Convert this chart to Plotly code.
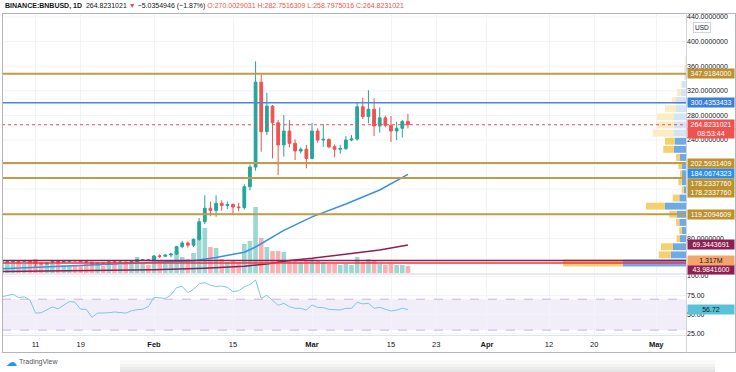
import plotly.graph_objects as go
import pandas as pd

# ---------------- data ----------------
dates = pd.date_range('2021-01-05', '2021-03-18', freq='D')

opens = [41.0, 41.9, 42.2, 43.0, 42.6, 43.6, 42.1, 39.3, 38.6, 40.4, 42.7, 41.2, 42.4, 44.0, 43.5, 42.1, 41.3, 37.7, 40.1, 39.4, 42.0, 41.0, 41.5, 39.5, 42.6, 45.4, 45.6,
         43.9, 51.5, 50.8, 53.0, 54.6, 66.5, 72.5, 69.0, 78.5, 107.0, 129.0, 125.5, 137.0, 133.5, 135.0, 131.0, 130.0, 164.0, 196.0, 334.0, 253.5, 295.0, 268.0, 232.0, 254.6, 234.6, 222.0, 225.0,
         210.0, 254.6, 240.0, 241.0, 229.0, 225.0, 226.0, 240.0, 241.6, 294.0, 278.0, 290.0, 262.8, 276.0, 263.8, 254.6, 259.0, 270.0029031]
highs = [42.5, 43.2, 44.0, 44.5, 44.2, 44.8, 42.5, 41.2, 41.0, 43.5, 43.2, 43.0, 44.5, 44.6, 44.3, 42.6, 41.6, 40.8, 40.9, 42.5, 43.0, 42.0, 41.8, 43.0, 47.0, 46.5, 46.0,
         53.0, 54.0, 54.0, 56.5, 68.0, 76.0, 75.0, 80.0, 113.0, 150.0, 140.0, 150.0, 142.0, 140.0, 137.0, 138.0, 168.0, 200.0, 368.0, 346.0, 317.0, 297.0, 272.5, 280.6, 272.5, 241.0, 228.0, 232.0,
         268.0, 259.0, 266.0, 242.7, 233.0, 232.0, 246.5, 248.0, 300.6, 308.8, 321.0, 307.8, 293.0, 279.5, 279.0, 269.8, 272.5, 282.7516309]
lows = [38.5, 40.5, 40.2, 39.8, 41.5, 40.5, 33.5, 37.2, 37.0, 39.8, 38.0, 40.5, 41.0, 42.0, 41.5, 38.2, 35.5, 36.0, 38.5, 39.0, 40.4, 39.5, 38.2, 39.0, 41.5, 43.5, 43.2,
        43.2, 48.0, 49.5, 49.0, 53.0, 64.0, 65.0, 66.0, 76.0, 103.0, 116.0, 115.0, 125.0, 128.0, 118.0, 124.0, 127.0, 158.0, 190.0, 221.0, 248.0, 210.0, 183.0, 213.0, 228.0, 207.5, 218.0, 194.0,
        208.6, 235.6, 229.0, 226.5, 212.0, 218.0, 223.7, 238.0, 238.9, 274.0, 267.0, 246.5, 252.0, 260.6, 236.7, 240.0, 244.0, 258.7975016]
closes = [41.9, 42.2, 43.0, 42.6, 43.6, 42.1, 39.3, 38.6, 40.4, 42.7, 41.2, 42.4, 44.0, 43.5, 42.1, 41.3, 37.7, 40.1, 39.4, 42.0, 41.0, 41.5, 39.5, 42.6, 45.4, 45.6, 43.9,
          51.5, 50.8, 53.0, 54.6, 66.5, 72.5, 69.0, 78.5, 107.0, 129.0, 125.5, 137.0, 133.5, 135.0, 131.0, 130.0, 164.0, 196.0, 334.0, 253.5, 295.0, 268.0, 232.0, 254.6, 234.6, 222.0, 225.0, 210.0,
          254.6, 240.0, 241.0, 229.0, 225.0, 226.0, 240.0, 241.6, 294.0, 278.0, 290.0, 262.8, 276.0, 263.8, 254.6, 259.0, 270.0, 264.8231021]
volumes_m = [2.28, 2.09, 1.90, 2.09, 1.71, 2.28, 2.66, 1.90, 1.71, 1.71, 1.90, 1.52, 1.52, 1.52, 1.52, 1.71, 2.09, 1.90, 1.33, 1.52, 1.71, 1.52, 1.71, 1.90, 3.04, 1.71, 1.52,
             3.23, 2.47, 2.28, 2.47, 4.18, 3.04, 2.66, 3.80, 7.22, 8.55, 4.94, 4.75, 2.66, 2.09, 2.28, 2.09, 5.51, 6.08, 12.54, 6.65, 4.94, 4.18, 4.18, 3.99, 2.47, 2.28, 2.09, 2.28,
             2.66, 2.28, 2.09, 1.71, 1.71, 1.52, 1.71, 1.52, 3.04, 2.09, 2.66, 2.28, 1.71, 1.52, 1.71, 1.52, 1.52, 1.317]
rsi = [73.0, 75.0, 76.5, 72.0, 73.0, 69.0, 52.0, 52.5, 56.0, 60.0, 57.5, 62.0, 67.0, 66.0, 57.0, 57.0, 46.5, 52.0, 52.0, 52.5, 53.5, 53.0, 52.0, 55.0, 56.5, 57.0, 60.5,
       72.4, 72.0, 71.0, 75.5, 85.0, 86.5, 78.5, 82.7, 90.0, 91.4, 88.0, 86.5, 86.9, 85.3, 79.7, 81.0, 86.0, 89.0, 94.8, 71.1, 75.0, 68.5, 62.0, 64.7, 60.3, 58.2, 58.2, 56.0,
       62.5, 59.4, 59.1, 56.9, 56.0, 56.0, 58.2, 58.2, 66.0, 64.0, 64.7, 58.2, 59.4, 56.9, 54.7, 56.0, 58.2, 56.72]

ma50_dates = ['2021-01-05', '2021-01-20', '2021-02-01', '2021-02-08', '2021-02-12', '2021-02-17', '2021-02-19', '2021-02-24', '2021-03-01', '2021-03-07', '2021-03-13', '2021-03-18']
ma50_vals = [30.5, 36.0, 40.4, 43.5, 49.0, 57.5, 66.0, 93.0, 115.0, 136.0, 158.7, 184.0674323]
ma200_dates = ['2021-01-05', '2021-01-20', '2021-02-01', '2021-02-10', '2021-02-17', '2021-02-21', '2021-02-25', '2021-03-01', '2021-03-05', '2021-03-09', '2021-03-13', '2021-03-18']
ma200_vals = [26.0, 27.5, 29.0, 31.5, 34.5, 38.5, 44.0, 47.6, 52.0, 56.5, 61.0, 69.3443691]

# visible-range volume profile rows (row centre price, up volume, down volume)
vp_price = [40.0, 53.2, 66.4, 79.6, 92.8, 106.0, 119.2, 132.4, 145.6, 158.8, 172.0, 185.2, 198.4, 211.6, 224.8, 238.0,
            251.2, 264.4, 277.6, 290.8, 304.0, 317.2, 330.4, 343.6, 356.8, 370.0]
vp_up = [63, 15.3, 13, 6, 4, 6.7, 9.3, 21, 6.7, 2.7, 4.3, 4, 4.3, 6, 12, 11, 12, 12, 12, 10, 10, 5.3, 4.3, 1.5, 1, 0.5]
vp_down = [60, 12, 12, 3.3, 2.7, 3.3, 7.4, 19, 6.6, 1.6, 3.4, 2, 3.4, 4, 10.7, 10, 21.3, 17, 17, 11, 4.3, 3.7, 0.5, 0.5, 0.5, 0.3]
value_area_rows = 16

levels = [347.9184000, 300.4353433, 202.5931409, 178.2337760, 119.2094609, 43.9841600]
level_colors = ['#c59a45', '#4a86e0', '#c59a45', '#c59a45', '#c59a45', '#8e1f52']

price_ticks = [80, 240, 280, 320, 360, 400, 440]
price_tick_text = ['80.0000000', '240.0000000', '280.0000000', '320.0000000', '360.0000000', '400.0000000', '440.0000000']
grid_prices = [40, 80, 120, 160, 200, 240, 280, 320, 360, 400, 440]
rsi_ticks = [25, 50, 75, 100]
rsi_tick_text = ['25.00', '50.00', '75.00', '100.00']
time_ticks = ['2021-01-11', '2021-01-19', '2021-02-01', '2021-02-15', '2021-03-01', '2021-03-15', '2021-03-23',
              '2021-04-01', '2021-04-12', '2021-04-20', '2021-05-01']
time_text = ['11', '19', '<b>Feb</b>', '15', '<b>Mar</b>', '15', '23', '<b>Apr</b>', '12', '20', '<b>May</b>']

# ---------------- layout constants ----------------
W, H = 736, 372
FONT = 'Liberation Sans, Arial, sans-serif'
UP, DN = '#26a69a', '#ef5350'
XD = [2 / W, 686 / W]
MAIN_D = [1 - 273 / H, 1 - 14 / H]
RSI_D = [1 - 335 / H, 1 - 275 / H]
PRICE_RANGE = [23.7, 444.9]
GRID = '#f0f3fa'

fig = go.Figure()

# volume bars (base axis y, hidden)
vol_colors = ['rgba(38,166,154,0.45)' if c >= o else 'rgba(239,83,80,0.45)' for o, c in zip(opens, closes)]
fig.add_trace(go.Bar(x=dates, y=volumes_m, marker=dict(color=vol_colors, line_width=0),
                     width=0.82 * 86400000, xaxis='x', yaxis='y', hoverinfo='skip'))

# volume profile (overlay axes x2 / y4)
up_cols = ['#6fa9e6' if i < value_area_rows else '#d3e4f7' for i in range(len(vp_price))]
dn_cols = ['#f4d06f' if i < value_area_rows else '#fbecc4' for i in range(len(vp_price))]
fig.add_trace(go.Bar(y=vp_price, x=vp_up, orientation='h', width=11.2, marker=dict(color=up_cols, line_width=0),
                     xaxis='x2', yaxis='y4', hoverinfo='skip'))
fig.add_trace(go.Bar(y=vp_price, x=vp_down, base=vp_up, orientation='h', width=11.2,
                     marker=dict(color=dn_cols, line_width=0), xaxis='x2', yaxis='y4', hoverinfo='skip'))

# moving averages
fig.add_trace(go.Scatter(x=pd.to_datetime(ma200_dates), y=ma200_vals, mode='lines',
                         line=dict(color='#8e1f52', width=1.5), xaxis='x', yaxis='y4', hoverinfo='skip'))
fig.add_trace(go.Scatter(x=pd.to_datetime(ma50_dates), y=ma50_vals, mode='lines',
                         line=dict(color='#3d8fe6', width=1.5), xaxis='x', yaxis='y4', hoverinfo='skip'))

# candles
fig.add_trace(go.Candlestick(x=dates, open=opens, high=highs, low=lows, close=closes,
                             increasing=dict(line=dict(color=UP, width=1), fillcolor=UP),
                             decreasing=dict(line=dict(color=DN, width=1), fillcolor=DN),
                             whiskerwidth=0, xaxis='x', yaxis='y4', hoverinfo='skip'))

# RSI
fig.add_trace(go.Scatter(x=dates, y=rsi, mode='lines', line=dict(color='#7cc7e8', width=1),
                         xaxis='x', yaxis='y2', hoverinfo='skip'))

shapes = []
# price grid
for gp in grid_prices:
    shapes.append(dict(type='line', xref='x domain', yref='y4', x0=0, x1=1, y0=gp, y1=gp,
                       line=dict(color=GRID, width=1), layer='below'))
# RSI band
shapes.append(dict(type='rect', xref='x domain', yref='y2', x0=0, x1=1, y0=30, y1=70,
                   fillcolor='rgba(126,87,194,0.10)', line_width=0, layer='below'))
for v in (30, 70):
    shapes.append(dict(type='line', xref='x domain', yref='y2', x0=0, x1=1, y0=v, y1=v,
                       line=dict(color='#c9b6dc', width=1, dash='dash')))
# drawn levels
for lv, col in zip(levels, level_colors):
    shapes.append(dict(type='line', xref='x domain', yref='y4', x0=0, x1=1, y0=lv, y1=lv,
                       line=dict(color=col, width=2 if col == '#c59a45' else 1.5)))
# POC line of volume profile
tot = [u + d for u, d in zip(vp_up, vp_down)]
poc = vp_price[tot.index(max(tot))]
shapes.append(dict(type='line', xref='x domain', yref='y4', x0=0, x1=1, y0=poc, y1=poc,
                   line=dict(color='#f23645', width=1.5)))
# last price line
shapes.append(dict(type='line', xref='x domain', yref='y4', x0=0, x1=1, y0=closes[-1], y1=closes[-1],
                   line=dict(color=DN, width=1, dash='dot')))

# frame / separators (paper coordinates)
def hline(ypx, x0px, x1px, col, w=1):
    shapes.append(dict(type='line', xref='paper', yref='paper', x0=x0px / W, x1=x1px / W,
                       y0=1 - ypx / H, y1=1 - ypx / H, line=dict(color=col, width=w)))

def vline(xpx, y0px, y1px, col, w=1):
    shapes.append(dict(type='line', xref='paper', yref='paper', x0=xpx / W, x1=xpx / W,
                       y0=1 - y0px / H, y1=1 - y1px / H, line=dict(color=col, width=w)))

hline(13.5, 2, 736, '#b2b5be')
hline(274, 2, 736, '#d1d4dc')
hline(335.5, 2, 686, '#e0e3eb')
hline(352.5, 2, 736, '#b2b5be')
vline(2.5, 13.5, 352.5, '#b2b5be')
vline(686.5, 13.5, 352.5, '#d1d4dc')
vline(735.5, 13.5, 352.5, '#b2b5be')

# soft page shadow below the chart card
for y0px, col in ((360, '#fafafa'), (364, '#f3f3f3'), (367, '#ebebeb'), (370, '#e3e3e3')):
    shapes.append(dict(type='rect', xref='paper', yref='paper', x0=120 / W, x1=715 / W,
                       y0=0, y1=1 - y0px / H, fillcolor=col, line_width=0, layer='below'))

annotations = []
header = ("<b>BINANCE:BNBUSD, 1D</b>  264.8231021 <span style='color:#ef5350'>▼</span> "
          "−5.0354946 (−1.87%) <span style='color:#ef5350'>O:270.0029031 H:282.7516309 "
          "L:258.7975016 C:264.8231021</span>")
annotations.append(dict(text=header, xref='paper', yref='paper', x=3 / W, y=1 - 6.5 / H, xanchor='left',
                        yanchor='middle', showarrow=False, font=dict(family=FONT, size=7, color='#131722')))

def label(y, text, bg, fg='white', yref='y4', yshift=0):
    annotations.append(dict(text=text, xref='paper', yref=yref, x=687 / W, y=y, xanchor='left', yanchor='middle',
                            showarrow=False, bgcolor=bg, width=46, height=9, borderpad=0, align='center',
                            yshift=yshift, font=dict(family=FONT, size=7, color=fg)))

label(levels[0], '347.9184000', '#bd912d')
label(levels[1], '300.4353433', '#3a7fe0')
label(closes[-1], '264.8231021', '#ef5350')
label(closes[-1], '08:53:44', '#ef5350', yshift=-9)
label(levels[2], '202.5931409', '#bd912d')
label(ma50_vals[-1], '184.0674323', '#2f8fe8', yshift=1)
label(levels[3], '178.2337760', '#bd912d', yshift=-5.5)
label(levels[3], '178.2337760', '#bd912d', yshift=-15)
label(levels[4], '119.2094609', '#bd912d')
label(ma200_vals[-1], '69.3443691', '#8e1f52')
label(levels[5], '43.9841600', '#8e1f52', yshift=-8.5)
label(volumes_m[-1], '1.317M', '#f6a46c', fg='#131722', yref='y', yshift=6)
label(rsi[-1], '56.72', '#58c3d8', fg='#131722', yref='y2')

annotations.append(dict(text='USD', xref='paper', yref='paper', x=711 / W, y=1 - 22 / H, showarrow=False,
                        bgcolor='white', bordercolor='#d1d4dc', borderwidth=1, borderpad=1,
                        font=dict(family=FONT, size=6.5, color='#131722')))
annotations.append(dict(text='☁', xref='paper', yref='paper', x=4 / W, y=1 - 362 / H, xanchor='left',
                        yanchor='middle', showarrow=False, font=dict(family='DejaVu Sans', size=11, color='#2196f3')))
annotations.append(dict(text='TradingView', xref='paper', yref='paper', x=17 / W, y=1 - 362 / H, xanchor='left',
                        yanchor='middle', showarrow=False, font=dict(family=FONT, size=7, color='#50535e')))

tickfont = dict(family=FONT, size=7, color='#131722')
fig.update_layout(
    template='none',
    width=W, height=H, margin=dict(l=0, r=0, t=0, b=0, pad=0),
    paper_bgcolor='white', plot_bgcolor='white', showlegend=False, barmode='overlay',
    font=dict(family=FONT, size=7, color='#131722'),
    xaxis=dict(type='date', domain=XD, anchor='free', position=1 - 338 / H,
               range=['2021-01-05 01:26', '2021-05-06 06:43'],
               tickvals=pd.to_datetime(time_ticks), ticktext=time_text, showgrid=True, gridcolor=GRID,
               ticks='', zeroline=False, showline=False, rangeslider=dict(visible=False),
               automargin=False, tickfont=dict(family=FONT, size=7.5, color='#131722')),
    xaxis2=dict(overlaying='x', anchor='y4', range=[684, 0], visible=False, showgrid=False, automargin=False),
    yaxis=dict(domain=MAIN_D, anchor='x', range=[0, 49.2], visible=False, showgrid=False, automargin=False),
    yaxis2=dict(domain=RSI_D, anchor='x', side='right', range=[23.7, 101.3], tickvals=rsi_ticks,
                ticktext=rsi_tick_text, showgrid=True, gridcolor=GRID, zeroline=False, ticks='',
                automargin=False, tickfont=tickfont),
    yaxis4=dict(overlaying='y', anchor='x', side='right', range=PRICE_RANGE, tickvals=price_ticks,
                ticktext=price_tick_text, showgrid=False, zeroline=False, ticks='', automargin=False,
                tickfont=tickfont),
    shapes=shapes, annotations=annotations,
)

fig.write_html('out.html', config={'displayModeBar': False},
               post_script="document.body.style.margin='0';")
